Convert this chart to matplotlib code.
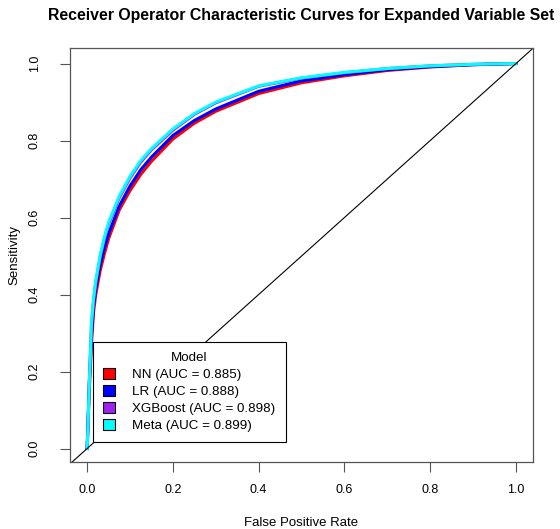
import matplotlib.pyplot as plt
from matplotlib.patches import Patch

plt.rcParams['font.family'] = ['Liberation Sans', 'DejaVu Sans']

# ROC points (false positive rate, sensitivity)
fpr = [0, 0.002, 0.005, 0.01, 0.015, 0.02, 0.03, 0.04, 0.05, 0.075, 0.1, 0.125,
       0.15, 0.2, 0.25, 0.3, 0.4, 0.5, 0.6, 0.7, 0.8, 0.9, 1.0]
tpr_nn = [0, 0.06, 0.15, 0.27, 0.355, 0.40, 0.46, 0.505, 0.545, 0.62, 0.67, 0.712,
          0.746, 0.804, 0.845, 0.876, 0.922, 0.95, 0.968, 0.982, 0.991, 0.997, 1.0]
tpr_lr = [0, 0.07, 0.17, 0.29, 0.37, 0.415, 0.475, 0.52, 0.558, 0.63, 0.682, 0.724,
          0.757, 0.813, 0.852, 0.882, 0.928, 0.955, 0.971, 0.984, 0.992, 0.997, 1.0]
tpr_xgb = [0, 0.06, 0.17, 0.32, 0.385, 0.43, 0.495, 0.544, 0.583, 0.652, 0.703, 0.744,
           0.776, 0.827, 0.868, 0.898, 0.941, 0.962, 0.976, 0.987, 0.994, 0.998, 1.0]
tpr_meta = [0, 0.06, 0.17, 0.325, 0.39, 0.435, 0.50, 0.548, 0.587, 0.656, 0.707, 0.748,
            0.779, 0.83, 0.87, 0.90, 0.942, 0.963, 0.977, 0.987, 0.994, 0.998, 1.0]

labels = ['NN (AUC = 0.885)', 'LR (AUC = 0.888)', 'XGBoost (AUC = 0.898)', 'Meta (AUC = 0.899)']
colors = ['#FF0000', '#0000FF', '#A020F0', '#00FFFF']
ticks = [0.0, 0.2, 0.4, 0.6, 0.8, 1.0]

fig = plt.figure(figsize=(5.6, 5.29), dpi=100)
ax = fig.add_axes([0.125, 0.1267, 0.827, 0.7823])

for tpr, c in zip([tpr_nn, tpr_lr, tpr_xgb, tpr_meta], colors):
    ax.plot(fpr, tpr, color=c, lw=2.2, solid_joinstyle='round')

ax.axline((0, 0), (1, 1), color='black', lw=0.8)

ax.set_xlim(-0.04, 1.04)
ax.set_ylim(-0.035, 1.04)
ax.set_xticks(ticks)
ax.set_yticks(ticks)
ax.set_xticklabels(['%.1f' % t for t in ticks])
ax.set_yticklabels(['%.1f' % t for t in ticks], rotation=90, va='center')
ax.tick_params(direction='out', length=7, width=0.8, color='#555555', labelsize=9)
ax.tick_params(axis='x', pad=9)
ax.tick_params(axis='y', pad=14)
for s in ax.spines.values():
    s.set_color('#555555')
    s.set_linewidth(0.9)

ax.set_xlabel('False Positive Rate', fontsize=9.5, labelpad=15)
ax.set_ylabel('Sensitivity', fontsize=9.5, labelpad=6)
ax.set_title('Receiver Operator Characteristic Curves for Expanded Variable Set',
             fontsize=11.4, fontweight='bold', pad=20)

handles = [Patch(facecolor=c, edgecolor='black', lw=0.8) for c in colors]
leg = ax.legend(handles, labels, title='Model', loc='lower left',
                bbox_to_anchor=(0.0497, 0.048), borderaxespad=0, fontsize=9.6,
                title_fontsize=9.6, fancybox=False, framealpha=1,
                handlelength=0.9, handleheight=0.85, handletextpad=1.3,
                borderpad=0.75, labelspacing=0.3)
leg.get_frame().set_edgecolor('black')
leg.get_frame().set_linewidth(0.8)

fig.savefig('out.png', dpi=100)
